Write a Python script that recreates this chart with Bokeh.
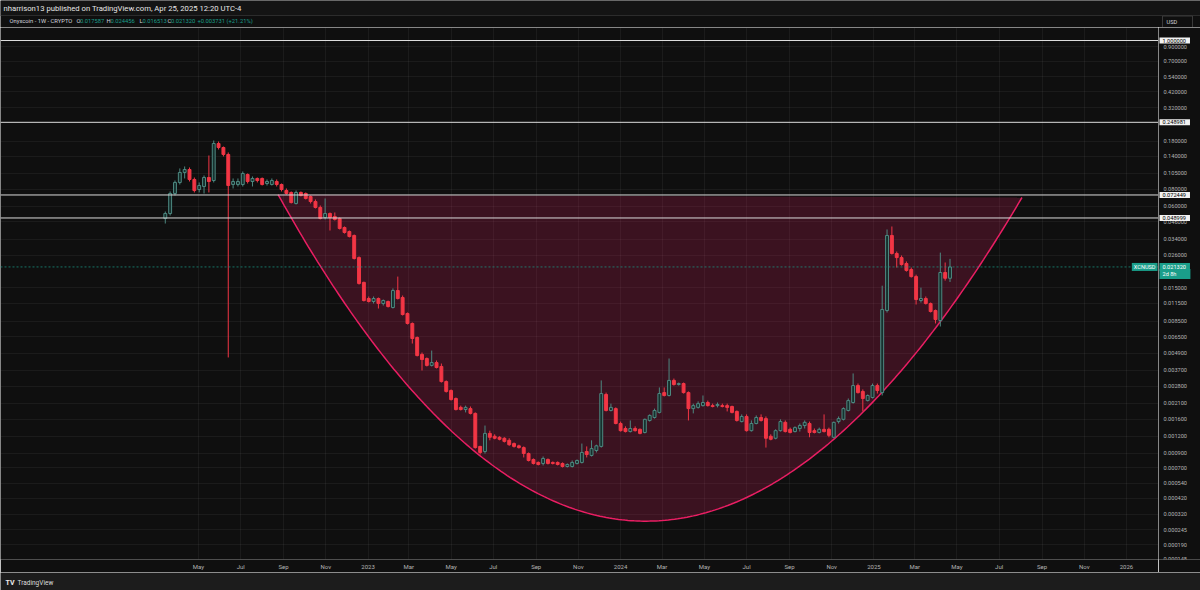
from datetime import datetime, timedelta
import numpy as np
from bokeh.plotting import figure
from bokeh.layouts import column, row
from bokeh.models import (Range1d, FixedTicker, Span, Label, Grid,
                          ColumnDataSource, CustomJSTickFormatter)
from bokeh.core.properties import value
from bokeh.embed import file_html
from bokeh.resources import INLINE

# ---------------- data (weekly XCN/USD candles) ----------------
first_week = datetime(2022, 3, 14)

opens = [0.0486, 0.0529, 0.0743, 0.0896, 0.1062, 0.1117, 0.0943, 0.0795, 0.0837, 0.0975,
         0.0926, 0.1737, 0.1623, 0.1442, 0.0866, 0.0866, 0.0866, 0.1026, 0.0911, 0.0959,
         0.0959, 0.0880, 0.0866, 0.0911, 0.0866, 0.0782, 0.0756, 0.0627, 0.0756, 0.0743,
         0.0706, 0.0648, 0.0586, 0.0494, 0.0529, 0.0502, 0.0486, 0.0417, 0.0389, 0.0364,
         0.0250, 0.0164, 0.01247, 0.01185, 0.01247, 0.01145, 0.01185, 0.0107, 0.01428, 0.01268,
         0.00967, 0.00816, 0.00643, 0.00482, 0.0045, 0.0040, 0.0042, 0.00393, 0.00304, 0.00261,
         0.00228, 0.00196, 0.00189, 0.00192, 0.00177, 0.00101, 0.000926, 0.00126, 0.0012, 0.00118,
         0.00116, 0.00112, 0.00106, 0.00102, 0.00099, 0.000895, 0.000809, 0.000769, 0.000756, 0.000809,
         0.000769, 0.000769, 0.000756, 0.000718, 0.000718, 0.000756, 0.000769, 0.000926, 0.000866, 0.000942,
         0.00101, 0.00244, 0.00186, 0.00192, 0.00149, 0.00137, 0.0013, 0.00137, 0.00135, 0.00128,
         0.00157, 0.00165, 0.0018, 0.00252, 0.0024, 0.0031, 0.00289, 0.00294, 0.00252, 0.00192,
         0.00196, 0.00202, 0.00213, 0.00202, 0.00202, 0.00202, 0.00202, 0.00199, 0.00183, 0.00154,
         0.00168, 0.00132, 0.00149, 0.00165, 0.00162, 0.0012, 0.00116, 0.00132, 0.00152, 0.00135,
         0.0013, 0.00137, 0.00144, 0.00149, 0.00132, 0.00128, 0.00135, 0.00135, 0.00118, 0.00154,
         0.0016, 0.00186, 0.00213, 0.00284, 0.00257, 0.0022, 0.00232, 0.00284, 0.00252, 0.01017,
         0.0364, 0.0268, 0.025, 0.0226, 0.0204, 0.0181, 0.01205, 0.01247, 0.01145, 0.01017,
         0.00858, 0.0194, 0.017587]

highs = [0.0547, 0.0769, 0.0926, 0.1137, 0.1176, 0.1156, 0.0975, 0.0896, 0.1009, 0.1417,
         0.1828, 0.1797, 0.1651, 0.1492, 0.0959, 0.0959, 0.1080, 0.1044, 0.0992, 0.0975,
         0.0975, 0.0943, 0.0959, 0.0943, 0.0880, 0.0809, 0.0769, 0.0782, 0.0769, 0.0756,
         0.0718, 0.0671, 0.0606, 0.0683, 0.0538, 0.0538, 0.0494, 0.0424, 0.0396, 0.0370,
         0.0255, 0.0166, 0.0129, 0.0129, 0.01268, 0.01226, 0.01205, 0.0148, 0.0181, 0.01312,
         0.00983, 0.0083, 0.00654, 0.00498, 0.00458, 0.00515, 0.00435, 0.00413, 0.0031, 0.00266,
         0.00232, 0.00202, 0.00202, 0.00199, 0.0018, 0.00102, 0.00144, 0.00132, 0.00124, 0.0012,
         0.00118, 0.00116, 0.00108, 0.00104, 0.00101, 0.000911, 0.000823, 0.000782, 0.000851, 0.000823,
         0.000782, 0.000782, 0.000769, 0.000756, 0.000795, 0.000809, 0.00106, 0.00101, 0.00112, 0.00104,
         0.0031, 0.00252, 0.00209, 0.00196, 0.00154, 0.00142, 0.00157, 0.00142, 0.00137, 0.00162,
         0.00174, 0.00192, 0.00275, 0.00275, 0.0045, 0.0032, 0.00299, 0.00299, 0.00257, 0.00209,
         0.00217, 0.0024, 0.0022, 0.00209, 0.00213, 0.00209, 0.00209, 0.00202, 0.00186, 0.00174,
         0.00174, 0.00157, 0.00171, 0.00174, 0.00168, 0.00124, 0.00135, 0.0016, 0.00157, 0.00139,
         0.00142, 0.00149, 0.00157, 0.00154, 0.00137, 0.00139, 0.00174, 0.00139, 0.00154, 0.00168,
         0.00196, 0.00228, 0.00349, 0.00294, 0.00266, 0.00244, 0.00294, 0.00294, 0.0155, 0.0403,
         0.0424, 0.0277, 0.0259, 0.0234, 0.0211, 0.0187, 0.0150, 0.0129, 0.01165, 0.01034,
         0.0272, 0.0230, 0.024456]

lows = [0.0446, 0.0511, 0.0718, 0.0866, 0.0959, 0.0911, 0.0756, 0.0756, 0.0743, 0.0756,
        0.0896, 0.1569, 0.1394, 0.00458, 0.0809, 0.0837, 0.0837, 0.0880, 0.0837, 0.0896,
        0.0851, 0.0851, 0.0851, 0.0837, 0.0769, 0.0730, 0.0627, 0.0616, 0.0706, 0.0671,
        0.0627, 0.0576, 0.0478, 0.0478, 0.0396, 0.0469, 0.0403, 0.0376, 0.0352, 0.0242,
        0.0158, 0.01185, 0.01165, 0.01145, 0.01052, 0.01107, 0.0107, 0.01052, 0.01226, 0.00934,
        0.00802, 0.0058, 0.00466, 0.00367, 0.00393, 0.00393, 0.0038, 0.00299, 0.00252, 0.0022,
        0.00186, 0.00186, 0.0018, 0.00174, 0.000973, 0.00088, 0.000895, 0.00112, 0.00114, 0.00112,
        0.00108, 0.00102, 0.00099, 0.000973, 0.000837, 0.000782, 0.000743, 0.000731, 0.000731, 0.000743,
        0.000743, 0.000731, 0.000706, 0.000706, 0.000706, 0.000743, 0.000756, 0.000837, 0.000851, 0.000911,
        0.00099, 0.00183, 0.00183, 0.00147, 0.0013, 0.00128, 0.00128, 0.0013, 0.00124, 0.00126,
        0.00154, 0.00162, 0.00177, 0.00236, 0.00236, 0.00284, 0.00284, 0.00248, 0.00157, 0.00177,
        0.00192, 0.00199, 0.00199, 0.00196, 0.00196, 0.00196, 0.00183, 0.00177, 0.00154, 0.00152,
        0.0013, 0.0013, 0.00147, 0.00154, 0.00099, 0.00112, 0.00114, 0.0013, 0.00128, 0.00126,
        0.00128, 0.0013, 0.00137, 0.00118, 0.00126, 0.00126, 0.00128, 0.00118, 0.00116, 0.00149,
        0.00157, 0.00183, 0.00209, 0.00248, 0.00183, 0.00217, 0.00228, 0.00248, 0.0024, 0.00983,
        0.0263, 0.0211, 0.0218, 0.0197, 0.0178, 0.01126, 0.01165, 0.01126, 0.00983, 0.00816,
        0.00775, 0.0169, 0.016513]

closes = [0.0529, 0.0743, 0.0896, 0.1062, 0.1117, 0.0943, 0.0782, 0.0851, 0.0975, 0.0911,
          0.1737, 0.1623, 0.1442, 0.0851, 0.0911, 0.0911, 0.1044, 0.0911, 0.0959, 0.0926,
          0.0866, 0.0911, 0.0926, 0.0866, 0.0795, 0.0743, 0.0637, 0.0756, 0.0718, 0.0683,
          0.0648, 0.0586, 0.0486, 0.0529, 0.0494, 0.0478, 0.0410, 0.0383, 0.0358, 0.0246,
          0.0161, 0.01205, 0.01185, 0.01247, 0.01145, 0.01205, 0.01088, 0.01428, 0.01247, 0.0095,
          0.00816, 0.00632, 0.00473, 0.00442, 0.0040, 0.0042, 0.00386, 0.00304, 0.00257, 0.00224,
          0.00189, 0.00189, 0.00196, 0.00177, 0.00099, 0.000911, 0.00126, 0.00118, 0.00116, 0.00114,
          0.0011, 0.00104, 0.00101, 0.00099, 0.000895, 0.000795, 0.000756, 0.000743, 0.000823, 0.000756,
          0.000756, 0.000743, 0.000718, 0.000743, 0.000769, 0.000795, 0.000911, 0.00088, 0.000973, 0.00102,
          0.00248, 0.00186, 0.00196, 0.00149, 0.00132, 0.0013, 0.00137, 0.00132, 0.00126, 0.0016,
          0.00171, 0.00186, 0.00248, 0.0024, 0.0031, 0.00289, 0.00294, 0.00252, 0.00192, 0.00202,
          0.00209, 0.00213, 0.00202, 0.00199, 0.00206, 0.00199, 0.00196, 0.0018, 0.00157, 0.00168,
          0.00132, 0.00149, 0.00165, 0.00157, 0.00116, 0.00114, 0.00132, 0.00154, 0.0013, 0.00128,
          0.00139, 0.00144, 0.00152, 0.00128, 0.00128, 0.00135, 0.0013, 0.00122, 0.00152, 0.00162,
          0.00192, 0.0022, 0.00284, 0.00252, 0.00228, 0.0024, 0.00284, 0.00261, 0.01034, 0.0364,
          0.0268, 0.025, 0.0222, 0.0201, 0.0181, 0.01226, 0.01247, 0.01145, 0.0100, 0.00873,
          0.0194, 0.017589, 0.02132]

# horizontal level lines drawn on the chart
level_prices = [1.0, 0.248981, 0.072449, 0.048999]

# cup drawing anchors (start, control, end) in date / price
cup_dates = [datetime(2022, 8, 24), datetime(2024, 1, 29), datetime(2025, 8, 3)]
cup_prices = [0.0730, 1.13e-6, 0.0694]

# axis ticks
y_ticks = [0.9, 0.7, 0.54, 0.42, 0.32, 0.18, 0.14, 0.105, 0.08, 0.06, 0.046, 0.034, 0.026,
           0.015, 0.0115, 0.0085, 0.0065, 0.0049, 0.0037, 0.0028, 0.0021, 0.0016, 0.0012,
           0.0009, 0.0007, 0.00054, 0.00042, 0.00032, 0.000245, 0.00019, 0.000148]
y_tick_labels = [f"{v:.6f}" for v in y_ticks]
x_tick_dates = [datetime(2022, 5, 1), datetime(2022, 7, 1), datetime(2022, 9, 1), datetime(2022, 11, 1),
                datetime(2023, 1, 1), datetime(2023, 3, 1), datetime(2023, 5, 1), datetime(2023, 7, 1),
                datetime(2023, 9, 1), datetime(2023, 11, 1), datetime(2024, 1, 1), datetime(2024, 3, 1),
                datetime(2024, 5, 1), datetime(2024, 7, 1), datetime(2024, 9, 1), datetime(2024, 11, 1),
                datetime(2025, 1, 1), datetime(2025, 3, 1), datetime(2025, 5, 1), datetime(2025, 7, 1),
                datetime(2025, 9, 1), datetime(2025, 11, 1), datetime(2026, 1, 1)]
x_tick_labels = ["May", "Jul", "Sep", "Nov", "2023", "Mar", "May", "Jul", "Sep", "Nov", "2024", "Mar",
                 "May", "Jul", "Sep", "Nov", "2025", "Mar", "May", "Jul", "Sep", "Nov", "2026"]

header_text = "nharrison13 published on TradingView.com, Apr 25, 2025 12:20 UTC-4"
symbol_text = "Onyxcoin - 1W - CRYPTO"
ticker_name = "XCNUSD"
countdown = "2d 8h"
currency = "USD"

# ---------------- styling ----------------
BG = "#0f0f0f"
STRIP = "#1c1c1c"
UP_LINE = "#4d8880"
UP_FILL = "#16302d"
DOWN = "#f23645"
TEAL = "#1a9e8a"
LABEL_GRAY = "#b4b4b4"
FONT = "Roboto"
EPOCH = datetime(1970, 1, 1)


def ms(d):
    return (d - EPOCH).total_seconds() * 1000.0


WEEK_MS = 7 * 24 * 3600 * 1000.0
dates = [first_week + timedelta(weeks=i) for i in range(len(closes))]

x_start = ms(datetime(2021, 7, 18, 21))
x_end = ms(datetime(2026, 2, 16, 7))
y_rng = Range1d(0.0001478, 1.2474)

# ---------------- main chart ----------------
p = figure(width=1158, height=545, x_axis_type="datetime", y_axis_type="log",
           y_axis_location=None,
           x_range=Range1d(x_start, x_end), y_range=y_rng,
           output_backend="svg", toolbar_location=None,
           min_border_left=0, min_border_right=0, min_border_top=0, min_border_bottom=13,
           background_fill_color=BG, border_fill_color=BG, outline_line_color=None)

for g in p.ygrid:
    g.visible = False

x_ms = [ms(d) for d in x_tick_dates]
p.xaxis.ticker = FixedTicker(ticks=x_ms)
p.xgrid.ticker = FixedTicker(ticks=x_ms)
p.xaxis.formatter = CustomJSTickFormatter(
    args=dict(tick_vals=x_ms, tick_names=x_tick_labels),
    code="const k = tick_vals.indexOf(tick); return k >= 0 ? tick_names[k] : '';")
xa = p.xaxis[0]
xa.axis_line_color = None
xa.major_tick_line_color = None
xa.minor_tick_line_color = None
xa.major_tick_out = 0
xa.major_tick_in = 0
xa.minor_tick_out = 0
xa.major_label_text_color = LABEL_GRAY
xa.major_label_text_font = FONT
xa.major_label_text_font_size = "6px"
xa.major_label_standoff = 3
p.xgrid.grid_line_color = "#ffffff"
p.xgrid.grid_line_alpha = 0.05
p.add_layout(Grid(dimension=1, ticker=FixedTicker(ticks=y_ticks),
                  grid_line_color="#ffffff", grid_line_alpha=0.05))

# cup drawing (quadratic curve in screen space = time / log-price space)
t = np.linspace(0.0, 1.0, 240)
cx = [ms(d) for d in cup_dates]
cl = np.log10(cup_prices)
bx = (1 - t) ** 2 * cx[0] + 2 * t * (1 - t) * cx[1] + t ** 2 * cx[2]
by = 10 ** ((1 - t) ** 2 * cl[0] + 2 * t * (1 - t) * cl[1] + t ** 2 * cl[2])
p.patch(bx, by, fill_color="#e91e63", fill_alpha=0.2, line_color=None)
p.line(bx, by, line_color="#e91e63", line_width=1.5)

# horizontal level lines + last price line
for lv in level_prices:
    p.add_layout(Span(location=lv, dimension="width", line_color="#dcdcdc", line_width=1))
p.add_layout(Span(location=closes[-1], dimension="width", line_color=TEAL,
                  line_alpha=0.7, line_width=1, line_dash="2 2"))

# candles
up_idx = [i for i in range(len(closes)) if closes[i] >= opens[i]]
dn_idx = [i for i in range(len(closes)) if closes[i] < opens[i]]


def src(idx):
    return ColumnDataSource(dict(
        x=[ms(dates[i]) for i in idx],
        top=[max(opens[i], closes[i]) for i in idx],
        bottom=[min(opens[i], closes[i]) for i in idx],
        high=[highs[i] for i in idx],
        low=[lows[i] for i in idx]))


s_up, s_dn = src(up_idx), src(dn_idx)
p.segment(x0="x", y0="high", x1="x", y1="low", source=s_up, line_color=UP_LINE, line_width=1)
p.vbar(x="x", width=WEEK_MS * 0.6, top="top", bottom="bottom", source=s_up,
       fill_color=UP_FILL, line_color=UP_LINE, line_width=1)
p.segment(x0="x", y0="high", x1="x", y1="low", source=s_dn, line_color=DOWN, line_width=1)
p.vbar(x="x", width=WEEK_MS * 0.6, top="top", bottom="bottom", source=s_dn,
       fill_color=DOWN, line_color=DOWN, line_width=1)

# symbol tag at the right end of the last-price line
p.add_layout(Label(x=1157, y=closes[-1], x_units="screen", y_units="data", text=ticker_name,
                   text_color="#ffffff", text_font=FONT, text_font_size="5.6px",
                   text_baseline="middle", text_align="right",
                   background_fill_color=TEAL,
                   padding=dict(left=2, right=2, top=1, bottom=1)))

# ---------------- price scale (right) ----------------
ps = figure(width=42, height=545, y_axis_type="log", y_range=y_rng, x_range=Range1d(0, 42),
            x_axis_location=None, y_axis_location=None, output_backend="svg",
            toolbar_location=None, min_border_left=0, min_border_right=0,
            min_border_top=0, min_border_bottom=13,
            background_fill_color=BG, border_fill_color=BG, outline_line_color=None)
ps.grid.visible = False
ps.text(x=[5] * len(y_ticks), y=y_ticks, text=y_tick_labels, text_color=LABEL_GRAY,
        text_font=value(FONT), text_font_size="5.6px", text_baseline="middle",
        text_align="left")
for lv in level_prices:
    ps.add_layout(Label(x=1, y=lv, text=f"{lv:.6f}",
                        text_color="#000000", text_font=FONT, text_font_size="5.6px",
                        text_baseline="middle", text_align="left",
                        background_fill_color="#f2f2f2",
                        padding=dict(left=3, right=4, top=1, bottom=1)))
ps.add_layout(Label(x=1, y=closes[-1], text=f"{closes[-1]:.6f}",
                    text_color="#ffffff", text_font=FONT, text_font_size="5.6px",
                    text_baseline="middle", text_align="left",
                    background_fill_color=TEAL,
                    padding=dict(left=3, right=4, top=2, bottom=2)))
ps.add_layout(Label(x=1, y=closes[-1], y_offset=-7, text=countdown,
                    text_color="#ffffff", text_font=FONT, text_font_size="5.6px",
                    text_baseline="middle", text_align="left",
                    background_fill_color=TEAL,
                    padding=dict(left=3, right=14, top=2, bottom=2)))

# ---------------- top strip: header + legend ----------------
top = figure(width=1200, height=27, x_range=Range1d(0, 1200), y_range=Range1d(27, 0),
             x_axis_location=None, y_axis_location=None, output_backend="svg",
             toolbar_location=None, min_border=0, background_fill_color=BG,
             border_fill_color=BG, outline_line_color=None)
top.grid.visible = False
top.quad(left=[0], right=[1200], top=[0], bottom=[15], fill_color="#141414", line_color=None)
top.segment(x0=[0], y0=[15], x1=[1200], y1=[15], line_color="#2c2c2c", line_width=1)
top.add_layout(Label(x=3, y=8, text=header_text, text_color="#e6e6e6", text_font=FONT,
                     text_font_size="7.7px", text_baseline="middle", text_align="left"))
chg = closes[-1] - closes[-2]
pct = chg / closes[-2] * 100
legend_parts = [
    (9, symbol_text, "#d1d4dc"),
    (76, "O", "#d1d4dc"), (79.5, f"{opens[-1]:.6f}", TEAL),
    (106, "H", "#d1d4dc"), (110, f"{highs[-1]:.6f}", TEAL),
    (139, "L", "#d1d4dc"), (142, f"{lows[-1]:.6f}", TEAL),
    (167, "C", "#d1d4dc"), (170.5, f"{closes[-1]:.6f}", TEAL),
    (197, f"{chg:+.6f} ({pct:+.2f}%)", TEAL),
]
for lx, txt, col in legend_parts:
    top.add_layout(Label(x=lx, y=20.5, text=txt, text_color=col, text_font=FONT,
                         text_font_size="5.8px", text_baseline="middle", text_align="left"))
top.quad(left=[1162], right=[1192], top=[15.5], bottom=[27.5], fill_color=BG,
         line_color="#3a3a3a", line_width=1)
top.add_layout(Label(x=1166, y=21.5, text=currency, text_color="#d1d4dc", text_font=FONT,
                     text_font_size="5.6px", text_baseline="middle", text_align="left"))

# ---------------- bottom strip: logo ----------------
bot = figure(width=1200, height=18, x_range=Range1d(0, 1200), y_range=Range1d(18, 0),
             x_axis_location=None, y_axis_location=None, output_backend="svg",
             toolbar_location=None, min_border=0, background_fill_color=STRIP,
             border_fill_color=STRIP, outline_line_color=None)
bot.grid.visible = False
bot.add_layout(Label(x=5, y=10, text="TV", text_color="#ececec", text_font=FONT,
                     text_font_size="7px", text_font_style="bold",
                     text_baseline="middle", text_align="left"))
bot.add_layout(Label(x=17, y=10, text="TradingView", text_color="#dcdcdc", text_font=FONT,
                     text_font_size="6.5px", text_baseline="middle", text_align="left"))

layout = column(top, row(p, ps, spacing=0), bot, spacing=0)
open("out.html", "w").write(file_html(layout, INLINE))
